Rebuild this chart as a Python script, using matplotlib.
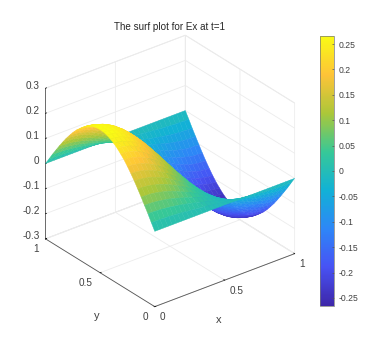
import numpy as np
import matplotlib
matplotlib.use('Agg')
import matplotlib.pyplot as plt
from matplotlib.colors import LinearSegmentedColormap, Normalize
from matplotlib.cm import ScalarMappable
from mpl_toolkits.mplot3d import proj3d

plt.rcParams['font.family'] = ['Liberation Sans', 'DejaVu Sans']

x = [i / 32 for i in range(33)]
y = [i / 32 for i in range(33)]
# Ex values for x and y up to 0.5, one row per y
# (the rest of the surface is the mirror image of this quarter)
ex_quarter = [
    [0]*17,
    [.026,.026,.026,.025,.024,.023,.022,.020,.018,.016,.014,.012,.010,.008,.005,.003,0],
    [.053,.053,.052,.051,.049,.047,.044,.041,.037,.034,.029,.025,.020,.015,.010,.005,0],
    [.078,.078,.077,.075,.072,.069,.065,.060,.055,.049,.043,.037,.030,.023,.015,.008,0],
    [.103,.102,.101,.099,.095,.091,.086,.080,.073,.065,.057,.049,.039,.030,.020,.010,0],
    [.127,.126,.125,.122,.117,.112,.106,.098,.090,.081,.071,.060,.049,.037,.025,.012,0],
    [.150,.149,.147,.144,.139,.132,.125,.116,.106,.095,.083,.071,.057,.044,.029,.015,0],
    [.171,.170,.168,.164,.158,.151,.142,.132,.121,.108,.095,.081,.065,.050,.033,.017,0],
    [.191,.190,.187,.183,.176,.168,.159,.148,.135,.121,.106,.090,.073,.055,.037,.019,0],
    [.209,.208,.205,.200,.193,.184,.174,.162,.148,.133,.116,.098,.080,.061,.041,.020,0],
    [.224,.223,.220,.214,.207,.198,.186,.173,.158,.142,.125,.106,.086,.065,.044,.022,0],
    [.238,.237,.233,.228,.220,.210,.198,.184,.168,.151,.132,.112,.091,.069,.046,.023,0],
    [.249,.248,.244,.238,.230,.220,.207,.192,.176,.158,.138,.117,.095,.072,.049,.024,0],
    [.258,.257,.253,.247,.238,.228,.214,.199,.182,.164,.143,.122,.099,.075,.050,.025,0],
    [.265,.264,.260,.254,.245,.234,.220,.205,.187,.168,.147,.125,.101,.077,.052,.026,0],
    [.269,.268,.264,.257,.249,.237,.224,.208,.190,.171,.150,.127,.103,.078,.052,.026,0],
    [.270,.269,.265,.258,.249,.238,.224,.209,.191,.171,.150,.127,.103,.078,.053,.026,0],
]
xy_ticks = [0, 0.5, 1]
xy_ticklabels = ['0', '0.5', '1']
z_ticks = [-0.3, -0.2, -0.1, 0, 0.1, 0.2, 0.3]
z_ticklabels = ['-0.3', '-0.2', '-0.1', '0', '0.1', '0.2', '0.3']
cb_ticks = [-0.25, -0.2, -0.15, -0.1, -0.05, 0, 0.05, 0.1, 0.15, 0.2, 0.25]
cb_ticklabels = ['-0.25', '-0.2', '-0.15', '-0.1', '-0.05', '0', '0.05', '0.1', '0.15', '0.2', '0.25']

parula = LinearSegmentedColormap.from_list('parula', [
    (0.2422, 0.1504, 0.6603), (0.2810, 0.3228, 0.9579), (0.1786, 0.5289, 0.9682),
    (0.0689, 0.6948, 0.8394), (0.2161, 0.7843, 0.5923), (0.6720, 0.7793, 0.2227),
    (0.9970, 0.7659, 0.2199), (0.9769, 0.9839, 0.0805)])
norm = Normalize(-0.266, 0.266)

q = np.array(ex_quarter)
half = np.hstack([q, -q[:, -2::-1]])
ex = np.vstack([half, half[-2::-1]])

W, H = 385, 343
fig = plt.figure(figsize=(W / 100, H / 100), dpi=100)
ax = fig.add_axes([16 / W, 18 / H, 300 / W, 300 / H], projection='3d')
ax.set_proj_type('ortho')
ax.view_init(elev=29, azim=-128)
ax.set_box_aspect((1, 1, 0.97), zoom=0.985)

X, Y = np.meshgrid(x, y)
surf = ax.plot_surface(X, Y, ex, cmap=parula, norm=norm, rstride=1, cstride=1,
                       linewidth=0.3, antialiased=True, shade=False)
surf.set_edgecolor('face')

ax.set_xlim(0, 1, view_margin=0)
ax.set_ylim(0, 1, view_margin=0)
ax.set_zlim(-0.3, 0.3, view_margin=0)
ax.set_xticks(xy_ticks, ['', '', ''])
ax.set_yticks(xy_ticks, ['', '', ''])
ax.set_zticks(z_ticks, [''] * len(z_ticks))

for a in (ax.xaxis, ax.yaxis, ax.zaxis):
    a.set_pane_color((1, 1, 1, 1))
    a.pane.set_edgecolor('#e4e4e4')
    a.pane.set_linewidth(0.6)
    a.line.set_color('#555555')
    a.line.set_linewidth(0.6)
    a._axinfo['grid'].update(color='#ececec', linewidth=0.6)
    a._axinfo['tick'].update(inward_factor=0.0, outward_factor=0.1)
    a._axinfo['tick']['linewidth'] = {True: 0.5, False: 0.5}
    a._axinfo['tick']['color'] = '#555555'

# tick labels placed by hand from the projected tick position
M = ax.get_proj()
def tick_label(s, px, py, pz, offset, ha):
    u, v, _ = proj3d.proj_transform(px, py, pz, M)
    ax.annotate(s, (u, v), xytext=offset, textcoords='offset pixels', ha=ha, va='center',
                fontsize=7.2, color='#404040', annotation_clip=False)

for t, s in zip(xy_ticks, xy_ticklabels):
    tick_label(s, t, 0, -0.3, (5, -10.5), 'left')
    tick_label(s, 0, t, -0.3, (-7, -10), 'right')
for t, s in zip(z_ticks, z_ticklabels):
    tick_label(s, 0, 1, t, (-6, 2.5), 'right')

fig.text(170 / W, 1 - 27 / H, 'The surf plot for Ex at t=1', ha='center', va='center', fontsize=7.1, color='#262626')
fig.text(219 / W, 1 - 320 / H, 'x', ha='center', va='center', fontsize=8, color='#404040')
fig.text(97 / W, 1 - 316 / H, 'y', ha='center', va='center', fontsize=8, color='#404040')

cax = fig.add_axes([320 / W, 1 - 306 / H, 14 / W, 270 / H])
cb = fig.colorbar(ScalarMappable(norm=norm, cmap=parula), cax=cax)
cb.set_ticks(cb_ticks, labels=cb_ticklabels)
cax.tick_params(direction='in', length=1.5, width=0.5, color='#555555', labelsize=6.2, labelcolor='#404040', pad=3)
cb.outline.set_edgecolor('#777777')
cb.outline.set_linewidth(0.5)

fig.savefig('out.png', dpi=100)
